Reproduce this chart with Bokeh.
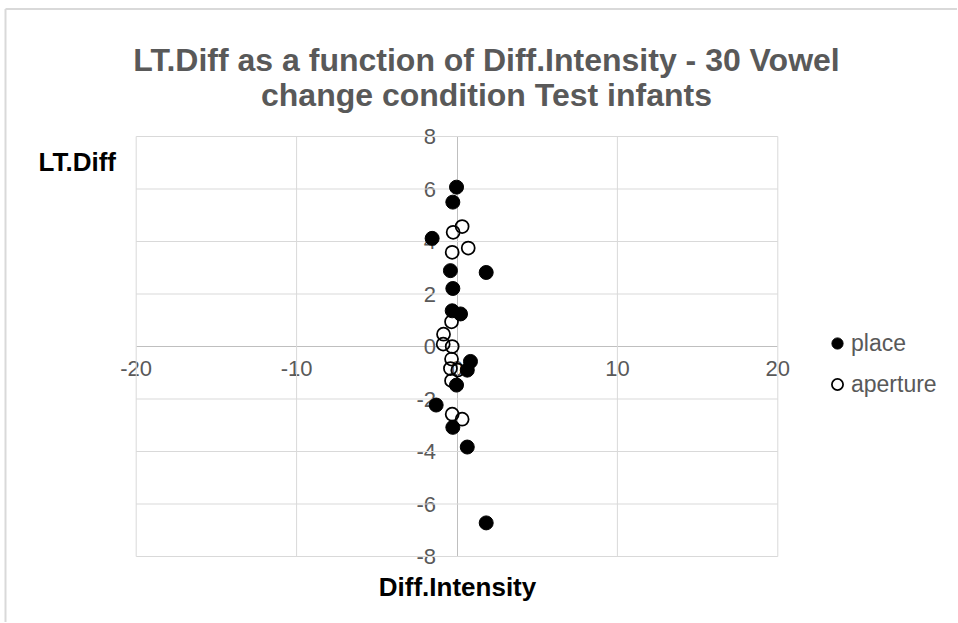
from bokeh.plotting import figure
from bokeh.models import FixedTicker, Legend, LegendItem, Label, Range1d, ColumnDataSource
from bokeh.embed import file_html
from bokeh.resources import INLINE

# ---- data ----
place_x = [-0.03, -0.26, -1.55, -0.41, 1.82, -0.26, -0.30, 0.22, 0.84, 0.64,
           -0.03, -1.30, -0.26, 0.64, 1.82]
place_y = [6.07, 5.50, 4.12, 2.89, 2.82, 2.21, 1.36, 1.24, -0.57, -0.90,
           -1.47, -2.23, -3.08, -3.83, -6.72]

aperture_x = [0.32, -0.24, 0.70, -0.30, -0.34, -0.84, -0.86, -0.30, -0.34,
              -0.41, 0.05, -0.34, -0.30, 0.32]
aperture_y = [4.57, 4.35, 3.75, 3.59, 0.94, 0.47, 0.09, 0.00, -0.48, -0.84,
              -0.90, -1.30, -2.58, -2.77]

x_ticks = [-20, -10, 0, 10, 20]
y_ticks = [-8, -6, -4, -2, 0, 2, 4, 6, 8]

title_lines = ["LT.Diff as a function of Diff.Intensity - 30 Vowel",
               "change condition Test infants"]
x_title = "Diff.Intensity"
y_title = "LT.Diff"
series_names = ["place", "aperture"]

FONT = "Liberation Sans"
GRAY = "#595959"

# ---- layout: the plot box (-20..20, -8..8) sits inside a canvas-wide frame
W, H = 957, 622
BOX_L, BOX_R, BOX_T, BOX_B = 135.7, 777.3, 136.0, 556.0   # pixels of the box
xmin, xmax = x_ticks[0], x_ticks[-1]
ymin, ymax = y_ticks[0], y_ticks[-1]
xs = (BOX_R - BOX_L) / (xmax - xmin)
ys = (BOX_B - BOX_T) / (ymax - ymin)
x_range = Range1d(xmin - BOX_L / xs, xmax + (W - BOX_R) / xs)
y_range = Range1d(ymin - (H - BOX_B) / ys, ymax + BOX_T / ys)

def dx(px):
    return x_range.start + px / xs

def dy(py):
    return y_range.end - py / ys

p = figure(width=W, height=H, x_range=x_range, y_range=y_range,
           output_backend="svg", toolbar_location=None, title=None,
           min_border=0, min_border_left=0, min_border_right=0,
           min_border_top=0, min_border_bottom=0)
p.background_fill_color = "white"
p.border_fill_color = "white"
p.outline_line_color = None
p.xgrid.visible = False
p.ygrid.visible = False

# chart-area border (top and left edges visible in the reference)
p.segment(x0=[dx(5), dx(5)], y0=[dy(8.5), dy(8.5)],
          x1=[dx(W + 5), dx(5)], y1=[dy(8.5), dy(H + 5)],
          line_color="#d9d9d9", line_width=2)

# gridlines and plot-box lines (at every tick except the zero axes)
gx = [t for t in x_ticks if t != 0]
gy = [t for t in y_ticks if t != 0]
p.segment(x0=gx, x1=gx, y0=[ymin] * len(gx), y1=[ymax] * len(gx),
          line_color="#d9d9d9", line_width=1)
p.segment(x0=[xmin] * len(gy), x1=[xmax] * len(gy), y0=gy, y1=gy,
          line_color="#d9d9d9", line_width=1)

# axes crossing at zero
for ax, ticks in ((p.xaxis, x_ticks), (p.yaxis, y_ticks)):
    ax.fixed_location = 0
    ax.ticker = FixedTicker(ticks=ticks)
    ax.bounds = (ticks[0], ticks[-1])
    ax.major_label_overrides = {t: str(t) for t in ticks}
    ax.axis_line_color = "#bfbfbf"
    ax.major_tick_line_color = None
    ax.minor_tick_line_color = None
    ax.major_tick_out = 0
    ax.major_tick_in = 0
    ax.major_label_text_font = FONT
    ax.major_label_text_font_size = "22px"
    ax.major_label_text_color = GRAY
    ax.level = "underlay"
p.xaxis.major_label_standoff = 14
p.yaxis.major_label_standoff = 21

src_place = ColumnDataSource(dict(x=place_x, y=place_y))
src_ap = ColumnDataSource(dict(x=aperture_x, y=aperture_y))

r1 = p.scatter("x", "y", source=src_place, size=14, marker="circle",
               fill_color="black", line_color="black", line_width=1)
r2 = p.scatter("x", "y", source=src_ap, size=13, marker="circle",
               fill_color=None, line_color="black", line_width=1.75)

legend = Legend(items=[LegendItem(label=series_names[0], renderers=[r1]),
                       LegendItem(label=series_names[1], renderers=[r2])],
                location=(823, H - 398), orientation="vertical",
                glyph_width=28, glyph_height=28, label_height=28,
                spacing=13, padding=0, margin=0, label_standoff=0,
                border_line_color=None, background_fill_alpha=0,
                label_text_font=FONT, label_text_font_size="23px",
                label_text_color=GRAY)
p.add_layout(legend, "center")

def add_text(x, y, text, size, color, align):
    p.add_layout(Label(x=x, y=H - y, x_units="screen", y_units="screen",
                       text=text, text_align=align,
                       text_baseline="alphabetic", text_font=FONT,
                       text_font_size=size, text_font_style="bold",
                       text_color=color))

add_text(486, 59, title_lines[0], "32px", GRAY, "center")
add_text(486, 94, title_lines[1], "32px", GRAY, "center")
add_text(38, 161, y_title, "26px", "black", "left")
add_text(457, 586, x_title, "26px", "black", "center")

open("out.html", "w").write(file_html(p, INLINE))
